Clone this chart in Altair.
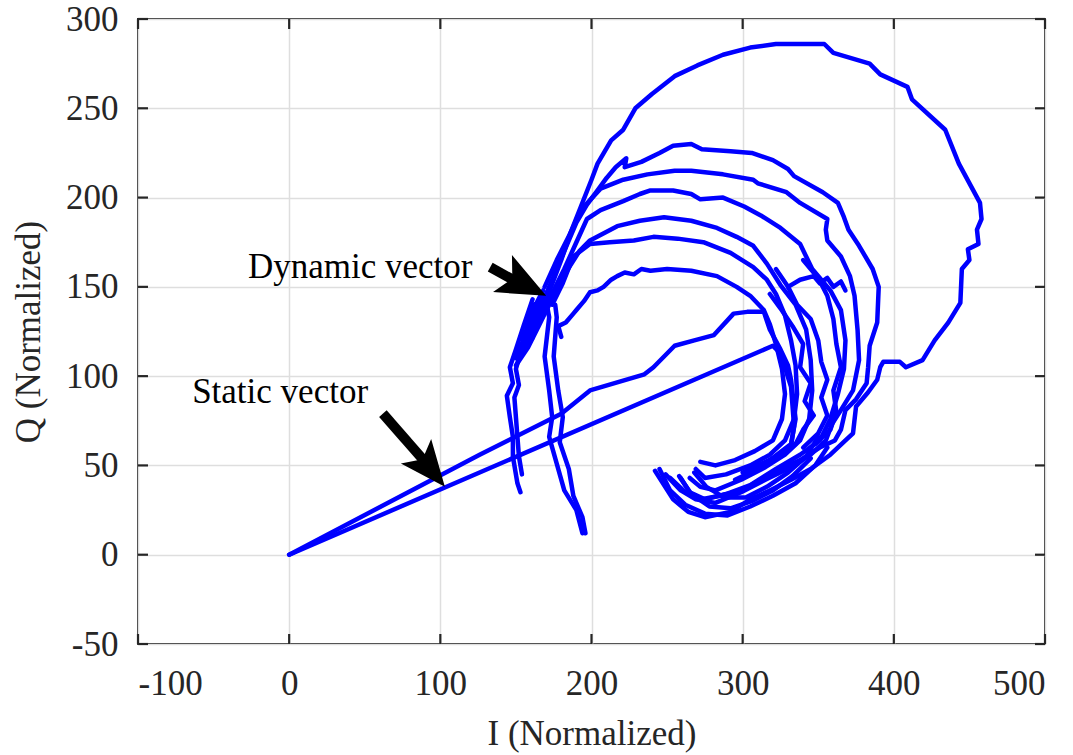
import altair as alt
import pandas as pd

# ---- I/Q trajectory segments (normalized units) ----
static_lower_I = [0, 320, 326, 329, 332, 333, 334, 332, 320, 300]
static_lower_Q = [0, 117, 112, 102, 94, 83, 72, 61, 54, 46]

static_upper_I = [0, 126, 180, 199, 235, 241, 255, 268, 281, 294, 303, 314, 318, 325, 330, 332, 335, 332, 318]
static_upper_Q = [0, 56, 79, 92, 101, 105, 117, 120, 123, 135, 136, 136, 126, 115, 106, 98, 76, 62, 53]

loop1_I = [169, 177, 186, 193, 200, 204, 213, 221, 229, 240, 255, 270, 287, 305, 322, 340, 354, 360, 384, 391,
           409, 412, 434, 443, 457, 458, 455, 456, 449, 450, 445, 444, 436, 427, 419, 408, 404, 393, 391, 389,
           383, 375, 373, 368, 358, 345, 332, 318, 305, 292, 275, 264, 254, 242]
loop1_Q = [150, 165, 180, 195, 210, 219, 232, 238, 250, 258, 268, 274, 280, 284, 286, 286, 286, 281, 275, 269,
           262, 255, 238, 219, 197, 188, 182, 174, 171, 165, 160, 141, 130, 120, 109, 105, 108, 108, 105, 98,
           91, 83, 68, 64, 56, 48, 42, 36, 31, 24, 21, 24, 31, 47]

loop2_I = [170, 178, 185, 190, 197, 204, 210, 216, 223, 222, 233, 245, 254, 266, 273, 292, 306, 320, 330, 334,
           353, 363, 367, 370, 377, 386, 390, 389, 384, 383, 382, 375, 368, 365, 361, 351, 338, 325, 312, 299,
           285, 272, 262, 252]
loop2_Q = [146, 162, 176, 186, 196, 204, 211, 217, 222, 217, 220, 225, 229, 230, 227, 226, 225, 221, 216, 212,
           203, 197, 189, 182, 173, 160, 150, 130, 117, 105, 96, 87, 81, 70, 64, 60, 53, 48, 42, 36,
           33, 31, 35, 43]

loop3_I = [171, 180, 186, 193, 206, 221, 237, 255, 266, 287, 307, 310, 329, 338, 356, 355, 356, 365, 371, 374,
           376, 377, 373, 365, 359, 355, 345, 332, 315, 299, 282, 269, 259, 249]
loop3_Q = [145, 165, 180, 193, 205, 210, 213, 215, 215, 213, 210, 208, 203, 197, 188, 182, 176, 167, 156, 145,
           126, 109, 92, 81, 73, 64, 56, 49, 42, 35, 29, 31, 36, 45]

loop4_I = [172, 182, 190, 197, 206, 221, 232, 239, 254, 266, 272, 287, 301, 312, 325, 338, 346, 358, 365, 368,
           367, 363, 358, 351, 338, 322, 305, 289, 275, 265, 259]
loop4_Q = [143, 160, 175, 188, 193, 198, 202, 204, 204, 202, 199, 200, 195, 190, 183, 174, 160, 148, 137, 120,
           104, 90, 76, 64, 56, 48, 39, 34, 31, 35, 43]

loop5_I = [173, 183, 192, 199, 217, 232, 248, 266, 283, 296, 307, 316, 325, 335, 342, 345, 346, 344, 338, 328,
           315, 299, 282, 272, 265]
loop5_Q = [142, 158, 170, 176, 184, 187, 189, 187, 183, 178, 173, 163, 151, 140, 126, 109, 92, 76, 64, 56,
           49, 42, 36, 38, 43]

loop6_I = [174, 181, 188, 199, 212, 228, 241, 257, 274, 292, 307, 316, 322, 328, 332, 335, 336, 334, 328, 318,
           305, 289, 275, 269]
loop6_Q = [140, 152, 167, 174, 175, 176, 178, 177, 175, 169, 161, 154, 146, 134, 120, 106, 90, 76, 64, 56,
           50, 45, 43, 48]

loop7_I = [180, 178, 183, 188, 190, 195, 199, 204, 208, 213, 217, 222, 228, 233, 239, 250, 266, 283, 296, 305,
           314, 318, 322, 326, 328, 326, 320, 308, 295, 282, 272]
loop7_Q = [122, 128, 130, 135, 137, 142, 147, 148, 150, 154, 156, 158, 157, 160, 159, 160, 159, 156, 150, 145,
           137, 129, 118, 104, 90, 76, 64, 58, 53, 50, 52]

inner_I = [318, 325, 333, 340, 338, 345, 341, 347, 340, 335, 325, 310, 295]
inner_Q = [146, 138, 128, 118, 105, 96, 86, 78, 70, 62, 55, 48, 42]

bundle_a_I = [322, 330, 336, 345, 350, 352, 356, 352, 356, 350, 340]
bundle_a_Q = [160, 150, 140, 132, 120, 108, 98, 88, 78, 68, 60]
bundle_b_I = [340, 350, 356, 360, 362, 365, 360, 362, 358, 348]
bundle_b_Q = [165, 155, 145, 132, 118, 105, 92, 80, 70, 62]

ripple_I = [330, 338, 347, 351, 356, 360, 365, 368]
ripple_Q = [150, 154, 156, 152, 155, 150, 153, 148]

hook_a_I = [245, 252, 262, 275, 290, 305, 320, 335, 348, 356]
hook_a_Q = [48, 36, 28, 23, 22, 27, 33, 40, 50, 60]
hook_b_I = [258, 266, 278, 292, 306, 320, 333, 345]
hook_b_Q = [44, 34, 27, 26, 30, 36, 44, 54]
hook_c_I = [268, 276, 288, 302, 316, 330, 342, 350]
hook_c_Q = [46, 38, 32, 32, 38, 46, 55, 66]

cluster_I = [168, 158, 166, 154, 163, 152, 160, 150, 158, 165, 172, 160, 168, 175, 163, 156, 170,
             162, 154, 166, 158, 150, 161, 171, 164, 155, 167]
cluster_Q = [148, 132, 138, 122, 130, 112, 120, 106, 116, 128, 140, 126, 134, 146, 137, 124, 145,
             140, 118, 136, 127, 110, 121, 143, 131, 115, 139]

strand1_I = [161, 155, 150, 146, 148, 144, 146, 148, 148, 151, 153]
strand1_Q = [143, 128, 115, 105, 96, 89, 77, 66, 55, 40, 35]
strand1b_I = [165, 158, 153, 150, 152, 149, 150, 151, 152, 154]
strand1b_Q = [140, 125, 113, 104, 95, 88, 77, 66, 55, 45]
strand2_I = [170, 172, 169, 172, 174, 172, 177, 182, 190, 194]
strand2_Q = [142, 133, 111, 92, 77, 66, 51, 36, 25, 12]
strand3_I = [176, 177, 175, 178, 181, 179, 185, 188, 194, 196]
strand3_Q = [140, 133, 111, 92, 77, 63, 48, 33, 21, 12]

segments = {
    "static_lower": (static_lower_I, static_lower_Q),
    "static_upper": (static_upper_I, static_upper_Q),
    "loop1": (loop1_I, loop1_Q),
    "loop2": (loop2_I, loop2_Q),
    "loop3": (loop3_I, loop3_Q),
    "loop4": (loop4_I, loop4_Q),
    "loop5": (loop5_I, loop5_Q),
    "loop6": (loop6_I, loop6_Q),
    "loop7": (loop7_I, loop7_Q),
    "inner": (inner_I, inner_Q),
    "bundle_a": (bundle_a_I, bundle_a_Q),
    "bundle_b": (bundle_b_I, bundle_b_Q),
    "ripple": (ripple_I, ripple_Q),
    "hook_a": (hook_a_I, hook_a_Q),
    "hook_b": (hook_b_I, hook_b_Q),
    "hook_c": (hook_c_I, hook_c_Q),
    "cluster": (cluster_I, cluster_Q),
    "strand1": (strand1_I, strand1_Q),
    "strand1b": (strand1b_I, strand1b_Q),
    "strand2": (strand2_I, strand2_Q),
    "strand3": (strand3_I, strand3_Q),
}

# ---- annotations ----
label_text = ["Dynamic vector", "Static vector"]
label_I = [47, -6]
label_Q = [161, 91]
arrow_tail_I = [133, 62]
arrow_tail_Q = [161, 79]
arrow_neck_I = [148, 92]
arrow_neck_Q = [154, 50]
arrow_tip_I = [170, 103]
arrow_tip_Q = [145, 38]
arrow_angle = [117, 141]
arrow_size = [2400, 2100]

x_ticks = [-100, 0, 100, 200, 300, 400, 500]
y_ticks = [-50, 0, 50, 100, 150, 200, 250, 300]

W, H = 907, 625
FONT = "Liberation Serif"
X_MIN, X_MAX, Y_MIN, Y_MAX = -100, 500, -50, 300
TICK_X = 6.6   # inward tick length along I (about 10 px)
TICK_Y = 5.6   # inward tick length along Q (about 10 px)

rows = []
for name, (xs_, ys_) in segments.items():
    for k, (a, b) in enumerate(zip(xs_, ys_)):
        rows.append({"seg": name, "k": k, "I": a, "Q": b})
traj = pd.DataFrame(rows)

xs = alt.Scale(domain=[X_MIN, X_MAX], nice=False, zero=False)
ys = alt.Scale(domain=[Y_MIN, Y_MAX], nice=False, zero=False)

x_axis = alt.Axis(values=x_ticks, labelExpr="'' + datum.value", title="I (Normalized)",
                  tickSize=0, labelPadding=22, grid=True, domain=False,
                  titleY=89, titleBaseline="middle")
y_axis = alt.Axis(values=y_ticks, labelExpr="'' + datum.value", title="Q (Normalized)",
                  tickSize=0, labelPadding=20, grid=True, domain=False,
                  titleX=-110, titleBaseline="middle")

lines = alt.Chart(traj).mark_line(color="#0000ff", strokeWidth=4.5, strokeJoin="round", strokeCap="round").encode(
    x=alt.X("I:Q", scale=xs, axis=x_axis),
    y=alt.Y("Q:Q", scale=ys, axis=y_axis),
    detail="seg:N",
    order="k:Q",
)

# inward tick marks on all four sides of the box, one short path per tick
tick_rows = []
n = 0
for v in x_ticks:
    for a, b in ((Y_MIN, Y_MIN + TICK_Y), (Y_MAX, Y_MAX - TICK_Y)):
        tick_rows += [{"tid": n, "p": 0, "ti": v, "tq": a}, {"tid": n, "p": 1, "ti": v, "tq": b}]
        n += 1
for v in y_ticks:
    for a, b in ((X_MIN, X_MIN + TICK_X), (X_MAX, X_MAX - TICK_X)):
        tick_rows += [{"tid": n, "p": 0, "ti": a, "tq": v}, {"tid": n, "p": 1, "ti": b, "tq": v}]
        n += 1
ticks = alt.Chart(pd.DataFrame(tick_rows)).mark_line(color="#262626", strokeWidth=2.2).encode(
    x=alt.X("ti:Q", scale=xs), y=alt.Y("tq:Q", scale=ys), detail="tid:N", order="p:Q")

ann = pd.DataFrame({
    "text": label_text, "lx": label_I, "ly": label_Q,
    "tx": arrow_tail_I, "ty": arrow_tail_Q, "nx": arrow_neck_I, "ny": arrow_neck_Q,
    "px": arrow_tip_I, "py": arrow_tip_Q, "ang": arrow_angle, "sz": arrow_size,
})

labels = alt.Chart(ann).mark_text(font=FONT, fontSize=35, color="black", align="center", baseline="middle").encode(
    x=alt.X("lx:Q", scale=xs), y=alt.Y("ly:Q", scale=ys), text="text:N")

shafts = alt.Chart(ann).mark_rule(color="black", strokeWidth=10, strokeCap="butt").encode(
    x=alt.X("tx:Q", scale=xs), y=alt.Y("ty:Q", scale=ys),
    x2="nx:Q", y2="ny:Q")

heads = alt.Chart(ann).mark_point(
    shape="M0,0 L0.85,2 L0,1.55 L-0.85,2 Z", filled=True, color="black", opacity=1, strokeWidth=0
).encode(
    x=alt.X("px:Q", scale=xs), y=alt.Y("py:Q", scale=ys),
    angle=alt.Angle("ang:Q", scale=None),
    size=alt.Size("sz:Q", scale=None),
)

chart = alt.layer(lines, ticks, labels, shafts, heads).properties(
    width=W, height=H,
    padding={"left": 138, "top": 19, "right": 28, "bottom": 111},
    autosize=alt.AutoSizeParams(type="none"),
    background="white",
).configure_view(
    stroke="#262626", strokeWidth=2
).configure_axis(
    labelFont=FONT, titleFont=FONT, labelFontSize=35, titleFontSize=35,
    labelColor="#262626", titleColor="#262626", titleFontWeight="normal",
    gridColor="#dedede", gridWidth=1.5,
)

chart.save("out.html", embed_options={"renderer": "svg", "actions": False})
